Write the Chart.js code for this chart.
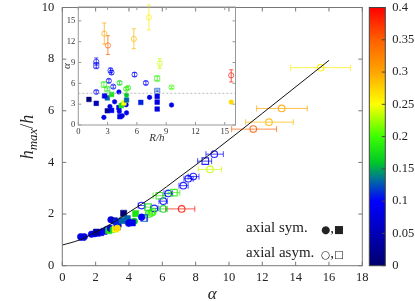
<!DOCTYPE html>
<html><head><meta charset="utf-8">
<script src="https://cdn.jsdelivr.net/npm/chart.js@4"></script>
<style>
html,body{margin:0;padding:0;background:#fff;}
#wrap{position:relative;width:415px;height:301px;overflow:hidden;font-family:"Liberation Serif","DejaVu Serif",serif;color:#222}
#main{position:absolute;left:0;top:0}
#inset{position:absolute;left:55px;top:0}
.ylab{position:absolute;left:27px;top:137px;transform:translate(-50%,-50%) rotate(-90deg);font-size:18px;white-space:nowrap;line-height:1}
.ylab i{font-style:italic}
.ylab sub{font-size:0.72em;font-style:italic;vertical-align:-0.3em;line-height:0}
.leg{position:absolute;font-size:15px;white-space:nowrap;line-height:1;transform:translateY(-50%)}
.sym{font-family:"DejaVu Sans",sans-serif;font-size:10.5px}
</style>
</head><body>
<div id="wrap">
<canvas id="main" width="415" height="301"></canvas>
<canvas id="inset" width="190" height="150"></canvas>
<div class="ylab"><i>h</i><sub>max</sub>/<i>h</i></div>
<div class="leg" style="left:246px;top:227px">axial sym.</div>
<div class="leg" style="left:321px;top:228px"><span class="sym">●</span>,<span class="sym">■</span></div>
<div class="leg" style="left:246px;top:252px">axial asym.</div>
<div class="leg" style="left:321px;top:253px"><span class="sym">○</span>,<span class="sym">□</span></div>
</div>
<script>
// ---------- data ----------
// reference curve (main panel)
const curveAlpha = [0, 1, 2, 3, 4, 5.5, 7, 9.2, 12, 16];
const curveH     = [0.8, 0.99, 1.3, 1.65, 2.07, 2.7, 3.42, 4.48, 5.9, 7.95];

// axial symmetric (filled markers)
const symAlpha = [1.1, 1.2, 1.32, 1.75, 1.95, 2.1, 2.3, 2.05, 2.5, 2.66, 2.78, 2.88, 2.92, 3.05, 3.18, 3.12, 3.3, 3.35, 3.25, 3.3, 3.68, 3.9, 3.6, 3.98, 4.12, 4.4, 4.32, 4.76, 4.2];
const symH     = [1.12, 1.1, 1.12, 1.22, 1.24, 1.26, 1.28, 1.3, 1.33, 1.4, 1.36, 1.45, 1.78, 1.4, 1.42, 1.74, 1.5, 1.55, 1.7, 1.45, 2.03, 1.82, 1.75, 1.64, 1.68, 2.02, 1.72, 1.88, 1.66];
const symRh    = [2.62, 4.26, 4.5, 4.94, 4.2, 3.41, 8.08, 2.97, 4.16, 3.24, 4.4, 9.55, 4.9, 4.55, 4.67, 1.84, 8.08, 3.72, 6.4, 15.66, 1.09, 2.97, 4.94, 7.3, 8.08, 3.41, 4.94, 4.16, 2.69];
const symC     = [0.08, 0.08, 0.08, 0.09, 0.09, 0.09, 0.08, 0.03, 0.09, 0.08, 0.18, 0.08, 0.08, 0.17, 0.25, 0.05, 0.08, 0.08, 0.11, 0.27, 0.01, 0.13, 0.13, 0.08, 0.08, 0.18, 0.16, 0.1, 0.09];
const symShape = ['c','s','c','c','c','s','s','s','s','c','s','c','c','c','s','s','s','c','s','c','s','s','s','c','s','s','c','c','s'];

// axial asymmetric (open markers)
const asymAlpha = [15.5, 13.16, 12.4, 11.46, 8.86, 7.16, 9.12, 8.58, 7.86, 7.56, 7.26, 6.36, 6.06, 5.82, 6.7, 6.06, 5.52, 4.76, 5.2, 5.35, 5.43, 5.15, 4.92];
const asymH     = [7.67, 6.09, 5.56, 5.29, 3.73, 2.2, 4.32, 4.05, 3.45, 3.37, 3.1, 2.8, 2.5, 2.71, 2.83, 2.2, 2.22, 2.33, 2.0, 2.05, 2.1, 2.27, 1.85];
const asymRh    = [7.23, 2.66, 5.69, 3.03, 8.35, 15.66, 1.84, 1.84, 3.3, 3.4, 5.76, 3.13, 6.92, 2.62, 8.08, 4.23, 3.58, 1.84, 4.9, 5.1, 9.55, 2.97, 8.08];
const asymC     = [0.26, 0.3, 0.29, 0.35, 0.235, 0.39, 0.1, 0.1, 0.1, 0.1, 0.1, 0.1, 0.1, 0.19, 0.19, 0.17, 0.1, 0.1, 0.19, 0.19, 0.2, 0.18, 0.12];
const asymShape = ['c','c','c','c','c','c','c','s','c','c','c','c','c','s','s','c','c','c','c','c','c','s','s'];
const asymErrLo = [13.7, 11.66, 11.0, 10.16, 8.16, 6.2, 8.62, 8.12, 7.55, 7.3, 7.0, 6.1, 5.8, 5.45, 6.35, 5.85, 5.3, 4.55, 5.0, 5.15, 5.25, 4.95, 4.8];
const asymErrHi = [17.3, 14.7, 13.86, 12.86, 9.56, 7.95, 9.66, 8.96, 8.2, 7.85, 7.55, 6.62, 6.3, 6.2, 7.05, 6.3, 5.75, 4.95, 5.4, 5.55, 5.6, 5.35, 5.05];

// inset reference level of alpha (dotted line)
const insetRefAlpha = 4.57;

// tick labels
const mainXTicks = [0, 2, 4, 6, 8, 10, 12, 14, 16, 18];
const mainYTicks = [0, 2, 4, 6, 8, 10];
const cbTicks  = [0, 0.05, 0.1, 0.15, 0.2, 0.25, 0.3, 0.35, 0.4];
const cbLabels = ['0', '0.05', '0.1', '0.15', '0.2', '0.25', '0.3', '0.35', '0.4'];
const insetXTicks = [0, 3, 6, 9, 12, 15];
const insetYTicks = [0, 3, 6, 9, 12, 15];

// ---------- colour map (style) ----------
const cmapVal = [0, 0.1, 0.13, 0.16, 0.2, 0.25, 0.3, 0.35, 0.4];
const cmapRGB = [[0,0,110],[0,0,255],[0,100,170],[0,200,40],[60,255,0],[255,255,0],[255,165,0],[255,95,0],[255,0,0]];
function colorFor(v, a) {
  if (a === undefined) a = 1;
  let i = 0;
  while (i < cmapVal.length - 2 && v > cmapVal[i + 1]) i++;
  const t = Math.max(0, Math.min(1, (v - cmapVal[i]) / (cmapVal[i + 1] - cmapVal[i])));
  const c = cmapRGB[i].map((k, j) => Math.round(k + (cmapRGB[i + 1][j] - k) * t));
  return 'rgba(' + c[0] + ',' + c[1] + ',' + c[2] + ',' + a + ')';
}

const FONT = "'Liberation Serif','DejaVu Serif',serif";
const setTicks = arr => s => { s.ticks = arr.map(v => ({ value: v })); };
const fitV = w => s => { s.width = w; s.paddingTop = 0; s.paddingBottom = 0; };
const fitH = h => s => { s.height = h; s.paddingLeft = 0; s.paddingRight = 0; };

function drawFrame(chart, xs, ys, xt, yt, len, color) {
  const ctx = chart.ctx, a = chart.chartArea;
  ctx.save();
  ctx.strokeStyle = color; ctx.lineWidth = 1;
  ctx.strokeRect(a.left, a.top, a.right - a.left, a.bottom - a.top);
  ctx.beginPath();
  xt.forEach(v => {
    const x = xs.getPixelForValue(v);
    ctx.moveTo(x, a.bottom); ctx.lineTo(x, a.bottom - len);
    ctx.moveTo(x, a.top); ctx.lineTo(x, a.top + len);
  });
  yt.forEach(v => {
    const y = ys.getPixelForValue(v);
    ctx.moveTo(a.left, y); ctx.lineTo(a.left + len, y);
    ctx.moveTo(a.right, y); ctx.lineTo(a.right - len, y);
  });
  ctx.stroke();
  ctx.restore();
}

function drawErrors(chart, horizontal, cap) {
  const ctx = chart.ctx, xs = chart.scales.x, ys = chart.scales.y;
  ctx.save();
  ctx.lineWidth = 1;
  asymAlpha.forEach((al, i) => {
    const lo = asymErrLo[i], hi = asymErrHi[i];
    if (lo == null) return;
    ctx.strokeStyle = colorFor(asymC[i], 0.7);
    ctx.beginPath();
    if (horizontal) {
      const y = ys.getPixelForValue(asymH[i]);
      const x1 = xs.getPixelForValue(lo), x2 = xs.getPixelForValue(hi);
      ctx.moveTo(x1, y); ctx.lineTo(x2, y);
      ctx.moveTo(x1, y - cap); ctx.lineTo(x1, y + cap);
      ctx.moveTo(x2, y - cap); ctx.lineTo(x2, y + cap);
    } else {
      const x = xs.getPixelForValue(asymRh[i]);
      const y1 = ys.getPixelForValue(lo), y2 = ys.getPixelForValue(hi);
      ctx.moveTo(x, y1); ctx.lineTo(x, y2);
      ctx.moveTo(x - cap, y1); ctx.lineTo(x + cap, y1);
      ctx.moveTo(x - cap, y2); ctx.lineTo(x + cap, y2);
    }
    ctx.stroke();
  });
  ctx.restore();
}

const mainDecor = {
  id: 'mainDecor',
  beforeDatasetsDraw(chart) { drawErrors(chart, true, 3); },
  afterDraw(chart) {
    drawFrame(chart, chart.scales.x, chart.scales.y, mainXTicks, mainYTicks, 4, '#777');
    const ctx = chart.ctx, cb = chart.scales.cb, a = chart.chartArea;
    const x0 = a.right + 7, w = 16;
    const yT = cb.getPixelForValue(0.4), yB = cb.getPixelForValue(0);
    const g = ctx.createLinearGradient(0, yB, 0, yT);
    cmapVal.forEach((v, i) => g.addColorStop(v / 0.4, 'rgb(' + cmapRGB[i].join(',') + ')'));
    ctx.save();
    ctx.fillStyle = g;
    ctx.fillRect(x0, yT, w, yB - yT);
    ctx.strokeStyle = '#444'; ctx.lineWidth = 1;
    ctx.strokeRect(x0, yT, w, yB - yT);
    ctx.beginPath();
    cbTicks.forEach(v => {
      const y = cb.getPixelForValue(v);
      ctx.moveTo(x0 + w, y); ctx.lineTo(x0 + w - 3.5, y);
    });
    ctx.stroke();
    ctx.restore();
  }
};

const insetDecor = {
  id: 'insetDecor',
  beforeDatasetsDraw(chart) { drawErrors(chart, false, 2); },
  afterDraw(chart) {
    drawFrame(chart, chart.scales.x, chart.scales.y, insetXTicks, insetYTicks, 3, '#999');
  }
};

const tickFont = { family: FONT, size: 12.5 };

new Chart(document.getElementById('main'), {
  type: 'scatter',
  data: { datasets: [
    { type: 'line', data: curveAlpha.map((x, i) => ({ x, y: curveH[i] })), borderColor: '#111', borderWidth: 1,
      pointRadius: 0, cubicInterpolationMode: 'monotone', fill: false },
    { data: symAlpha.map((x, i) => ({ x, y: symH[i] })),
      pointStyle: symShape.map(s => s === 's' ? 'rect' : 'circle'),
      pointRadius: symShape.map(s => s === 's' ? 4.4 : 3.3),
      backgroundColor: symC.map(c => colorFor(c, 1)), borderColor: symC.map(c => colorFor(c, 1)), borderWidth: 0.5 },
    { data: asymAlpha.map((x, i) => ({ x, y: asymH[i] })),
      pointStyle: asymShape.map(s => s === 's' ? 'rect' : 'circle'),
      pointRadius: asymShape.map(s => s === 's' ? 4.6 : 3.3),
      backgroundColor: 'rgba(0,0,0,0)', borderColor: asymC.map(c => colorFor(c, 0.85)), borderWidth: 1.1 }
  ]},
  options: {
    responsive: false, animation: false, devicePixelRatio: 1,
    layout: { padding: { top: 7.5, left: 0, right: 0, bottom: 0 } },
    plugins: { legend: { display: false }, tooltip: { enabled: false } },
    scales: {
      x: { type: 'linear', min: 0, max: 18, afterBuildTicks: setTicks(mainXTicks), afterFit: fitH(35.3),
        grid: { display: false, drawTicks: false }, border: { display: false },
        ticks: { padding: 5, font: tickFont, color: '#222' },
        title: { display: true, text: 'α', color: '#222', padding: { top: 0, bottom: 0 },
          font: { family: FONT, size: 17, style: 'italic', lineHeight: 0.75 } } },
      y: { type: 'linear', min: 0, max: 10, afterBuildTicks: setTicks(mainYTicks), afterFit: fitV(62.3),
        grid: { display: false, drawTicks: false }, border: { display: false },
        ticks: { padding: 8, font: tickFont, color: '#222' } },
      cb: { type: 'linear', position: 'right', min: 0, max: 0.4, afterBuildTicks: setTicks(cbTicks), afterFit: fitV(52.7),
        grid: { display: false, drawTicks: false }, border: { display: false },
        ticks: { padding: 30, font: tickFont, color: '#222', callback: (v, i) => cbLabels[i] } }
    }
  },
  plugins: [mainDecor]
});

const insetFont = { family: FONT, size: 8.5 };
new Chart(document.getElementById('inset'), {
  type: 'scatter',
  data: { datasets: [
    { type: 'line', data: [{ x: 0, y: insetRefAlpha }, { x: 16.1, y: insetRefAlpha }], borderColor: '#aaa',
      borderDash: [2, 2], borderWidth: 0.8, pointRadius: 0 },
    { data: symRh.map((x, i) => ({ x, y: symAlpha[i] })),
      pointStyle: symShape.map(s => s === 's' ? 'rect' : 'circle'),
      pointRadius: symShape.map(s => s === 's' ? 3.3 : 2.3),
      backgroundColor: symC.map(c => colorFor(c, 1)), borderColor: symC.map(c => colorFor(c, 1)), borderWidth: 0.5 },
    { data: asymRh.map((x, i) => ({ x, y: asymAlpha[i] })),
      pointStyle: asymShape.map(s => s === 's' ? 'rect' : 'circle'),
      pointRadius: asymShape.map(s => s === 's' ? 3.6 : 2.6),
      backgroundColor: 'rgba(0,0,0,0)', borderColor: asymC.map(c => colorFor(c, 0.75)), borderWidth: 0.9 }
  ]},
  options: {
    responsive: false, animation: false, devicePixelRatio: 1,
    layout: { padding: { top: 7, left: 0, right: 9.5, bottom: 0 } },
    plugins: { legend: { display: false }, tooltip: { enabled: false } },
    scales: {
      x: { type: 'linear', min: 0, max: 16.1, afterBuildTicks: setTicks(insetXTicks), afterFit: fitH(25),
        grid: { display: false, drawTicks: false }, border: { display: false },
        ticks: { padding: 2, font: insetFont, color: '#333' },
        title: { display: true, text: 'R/h', color: '#333', padding: { top: 0, bottom: 6.5 },
          font: { family: FONT, size: 11, style: 'italic', lineHeight: 1 } } },
      y: { type: 'linear', min: 0, max: 17, afterBuildTicks: setTicks(insetYTicks), afterFit: fitV(23.3),
        grid: { display: false, drawTicks: false }, border: { display: false },
        ticks: { padding: 3, font: insetFont, color: '#333' },
        title: { display: true, text: 'α', color: '#333', padding: { top: 6.5, bottom: 0 },
          font: { family: FONT, size: 11, style: 'italic', lineHeight: 1 } } }
    }
  },
  plugins: [insetDecor]
});
</script>
</body></html>
